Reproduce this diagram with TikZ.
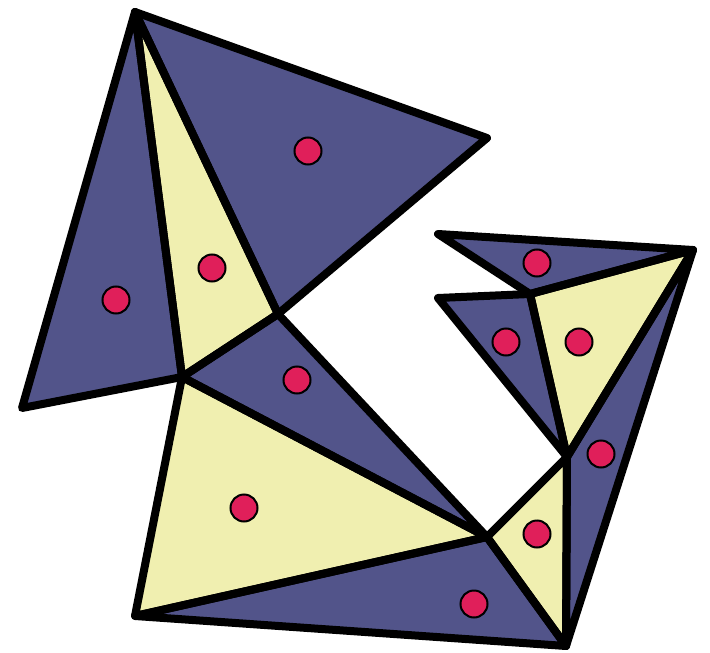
\documentclass[tikz,border=0pt]{standalone}
\usepackage{tikz}
\definecolor{triBlue}{HTML}{52548A}
\definecolor{triYellow}{HTML}{F0EFB0}
\definecolor{dotRed}{HTML}{E01F5A}

\begin{document}
\begin{tikzpicture}[x=1pt,y=-1pt,
  edge/.style={draw=black,line width=8pt,line join=round,line cap=round},
  dot/.style={circle,draw=black,line width=2pt,fill=dotRed,minimum size=27pt,inner sep=0pt}]
\useasboundingbox (0,0) rectangle (710,653);
% corners of the pieces
\coordinate (A) at (135,12);
\coordinate (B) at (487,138);
\coordinate (C) at (278,314);
\coordinate (D) at (182,377);
\coordinate (E) at (22,408);
\coordinate (F) at (135,616);
\coordinate (G) at (487,537);
\coordinate (H) at (566,646);
\coordinate (I) at (567,457);
\coordinate (J) at (693,250);
\coordinate (K) at (438,234);
\coordinate (L) at (530,294);
\coordinate (M) at (438,298);
\def\tris{A/D/E/triBlue,A/C/D/triYellow,A/B/C/triBlue,D/C/G/triBlue,D/G/F/triYellow,
  F/G/H/triBlue,G/H/I/triYellow,I/H/J/triBlue,L/I/J/triYellow,M/L/I/triBlue,K/J/L/triBlue}
\foreach \p/\q/\r/\c in \tris{
  \fill[\c] (\p) -- (\q) -- (\r) -- cycle;}
\foreach \p/\q/\r/\c in \tris{
  \draw[edge] (\p) -- (\q) -- (\r) -- cycle;}
% one dot per piece
\foreach \x/\y [count=\i] in {116/300,212/268,308/151,297/380,244/508,474/604,
  537/534,601/454,579/342,506/342,537/263}{
  \node[dot] (d\i) at (\x,\y) {};}
\end{tikzpicture}
\end{document}
